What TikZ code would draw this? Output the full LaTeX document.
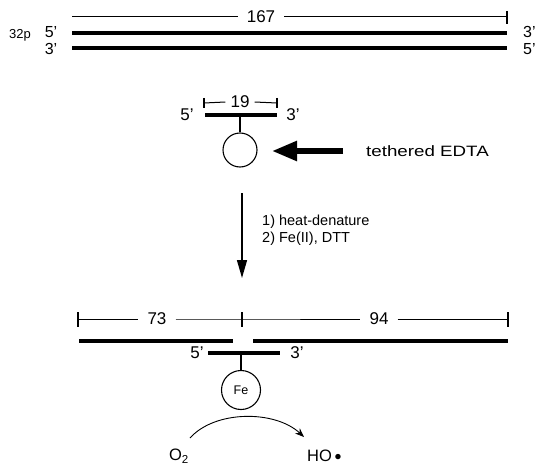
\documentclass[tikz,border=0pt]{standalone}
\usepackage{fontspec}
\setmainfont{Liberation Sans}
\usetikzlibrary{arrows.meta}
\begin{document}
\begin{tikzpicture}[x=1pt,y=-1pt,
  strand/.style={line width=3.4pt},
  dimline/.style={line width=1pt},
  tick/.style={line width=1.2pt},
  lbl/.style={font=\fontsize{17}{19}\selectfont, inner sep=0pt},
  endlbl/.style={font=\fontsize{16}{18}\selectfont, inner sep=0pt},
  dimlbl/.style={font=\fontsize{17}{19}\selectfont, inner ysep=0pt, inner xsep=9pt},
  small/.style={font=\fontsize{13}{15}\selectfont, inner sep=0pt},
  stepfont/.style={font=\fontsize{14.5}{17}\selectfont, inner sep=0pt, anchor=west},
  ring/.style={circle, draw, line width=1.1pt, inner sep=0pt}]
\useasboundingbox (0,0) rectangle (535,468);

% ---- top duplex ----
\coordinate (tL) at (72,17);
\coordinate (tR) at (507,17);
\node[dimlbl] (n167) at (261,17) {167};
\draw[dimline] (tL) -- (n167.west);
\draw[dimline] (n167.east) -- (tR);
\draw[tick] ([yshift=6pt]tR) -- ([yshift=-7pt]tR);

\coordinate (s1L) at (72,33);
\coordinate (s1R) at (507,33);
\coordinate (s2L) at (72,48);
\coordinate (s2R) at (507,48);
\draw[strand] (s1L) -- (s1R);
\draw[strand] (s2L) -- (s2R);
\node[small] (p32) at (20,35) {32p};
\node[endlbl] (l5a) at (51,32) {5'};
\node[endlbl] (l3a) at (51,49) {3'};
\node[endlbl, anchor=west] (r3a) at (523,32) {3'};
\node[endlbl, anchor=west] (r5a) at (523,49) {5'};

% ---- tethered oligo ----
\coordinate (a19L) at (204,103);
\coordinate (a19R) at (277,103);
\node[dimlbl, inner xsep=5pt] (n19) at (240,102) {19};
\draw[dimline] (a19L) -- (n19.west);
\draw[dimline] (n19.east) -- (a19R);
\draw[tick] ([yshift=5pt]a19L) -- ([yshift=-5pt]a19L);
\draw[tick] ([yshift=5pt]a19R) -- ([yshift=-5pt]a19R);

\coordinate (oL) at (205,115);
\coordinate (oR) at (277,115);
\draw[strand] (oL) -- (oR);
\node[lbl] (l5b) at (187,115) {5'};
\node[lbl] (l3b) at (293,115) {3'};
\node[ring, minimum size=34pt] (edta) at (240,150) {};
\coordinate (oStem) at (240,115);
\draw[line width=1.1pt] (oStem) -- (edta.north);

\coordinate (bigTail) at (343,151);
\coordinate (bigTip) at (272,151);
\draw[line width=5.5pt, -{Triangle[length=25pt,width=19pt]}] (bigTail) -- (bigTip);
\node[lbl, anchor=west, font=\fontsize{15}{18}\selectfont] (teth) at (366,151) {\scalebox{1.25}[1]{tethered EDTA}};

% ---- reaction arrow ----
\coordinate (dTop) at (242,193);
\coordinate (dBot) at (242,278);
\draw[line width=1.4pt, -{Triangle[length=18pt,width=10pt]}] (dTop) -- (dBot);
\node[stepfont] (st1) at (262,222) {1) heat-denature};
\node[stepfont] (st2) at (262,239) {2) Fe(II), DTT};

% ---- cleaved duplex ----
\coordinate (bL) at (78,319);
\coordinate (bM) at (242,319);
\coordinate (bR) at (508,319);
\node[dimlbl] (n73) at (157,319) {73};
\node[dimlbl] (n94) at (379,319) {94};
\draw[dimline] (bL) -- (n73.west);
\draw[dimline] (n73.east) -- (bM) -- (n94.west);
\draw[dimline] (n94.east) -- (bR);
\foreach \c in {bL,bM,bR}
  \draw[tick] ([yshift=7pt]\c) -- ([yshift=-8pt]\c);

\coordinate (c1L) at (79,341);
\coordinate (c1R) at (233,341);
\coordinate (c2L) at (253,341);
\coordinate (c2R) at (508,341);
\draw[strand] (c1L) -- (c1R);
\draw[strand] (c2L) -- (c2R);

\coordinate (fL) at (208,353);
\coordinate (fR) at (280,353);
\draw[strand] (fL) -- (fR);
\node[lbl] (l5c) at (197,353) {5'};
\node[lbl] (l3c) at (297,353) {3'};
\node[ring, minimum size=39pt, font=\fontsize{12.5}{14}\selectfont] (fe) at (241,390) {Fe};
\coordinate (fStem) at (241,353);
\draw[line width=1.1pt] (fStem) -- (fe.north);

\node[lbl, font=\fontsize{16.5}{19}\selectfont] (o2) at (179,456) {O\textsubscript{2}};
\node[lbl, anchor=west, font=\fontsize{16.5}{19}\selectfont] (ho) at (307,456) {HO\,\raisebox{1pt}{\scalebox{0.8}{$\bullet$}}};
\coordinate (cS) at (190,438);
\coordinate (cE) at (304,437);
\draw[line width=0.9pt, -{Stealth[length=9pt,width=7pt]}] (cS) .. controls (215,410) and (275,410) .. (cE);
\end{tikzpicture}
\end{document}
